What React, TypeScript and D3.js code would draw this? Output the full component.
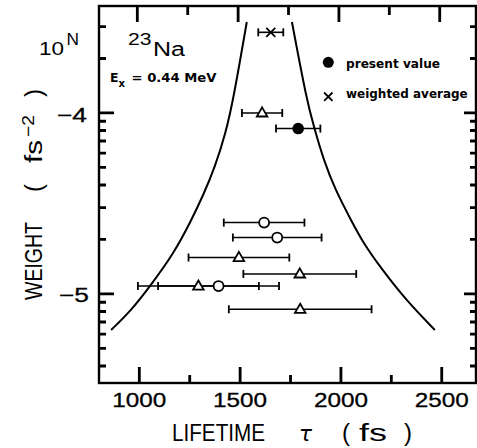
import * as d3 from 'd3';
import { useEffect, useRef } from 'react';

const triTau = [1609, 1494, 1796, 1293, 1798];
const triErr = [100, 250, 280, 300, 354];
const triWeight = [1.0e-4, 1.59e-5, 1.29e-5, 1.106e-5, 8.23e-6];

const circTau = [1619, 1684, 1393];
const circErr = [200, 220, 300];
const circWeight = [2.48e-5, 2.05e-5, 1.106e-5];

const presentTau = 1788;
const presentErr = 110;
const presentWeight = 8.2e-5;

const avgTau = 1652;
const avgErr = 62;
const avgWeight = 2.79e-4;

// envelope curves [tau, weight]
const leftCurve = [
  [1533, 3.18e-4], [1466, 1.18e-4], [1428, 7.73e-5], [1376, 5.05e-5], [1314, 3.45e-5],
  [1258, 2.56e-5], [1172, 1.68e-5], [1052, 1.1e-5], [962, 8.17e-6], [860, 6.32e-6],
];
const rightCurve = [
  [1757, 3.18e-4], [1830, 1.18e-4], [1868, 8.23e-5], [1914, 5.5e-5], [1972, 3.76e-5],
  [2050, 2.56e-5], [2112, 1.9e-5], [2205, 1.36e-5], [2322, 9.27e-6], [2466, 6.32e-6],
];

const xMajor = [1000, 1500, 2000, 2500];
const xMinor = [1250, 1750, 2250];
const yMajor = [1e-4, 1e-5];
const yMinor = [3e-4, 2e-4, 9e-5, 8e-5, 7e-5, 6e-5, 5e-5, 4e-5, 3e-5, 2e-5, 9e-6, 8e-6, 7e-6, 6e-6, 5e-6, 4e-6];

const FONT = '"Liberation Sans", Arial, sans-serif';
const BOLD = '"DejaVu Sans", sans-serif';

const App = () => {
  const svgRef = useRef(null);

  useEffect(() => {
    const width = 477;
    const height = 448;
    const left = 99, right = 476, top = 6, bottom = 383;

    const x = d3.scaleLinear().domain([800, 2670]).range([left, right]);
    const y = d3.scaleLog().domain([Math.pow(10, -5.492), Math.pow(10, -3.409)]).range([bottom, top]);

    const svg = d3.select(svgRef.current)
      .attr('width', width)
      .attr('height', height);

    svg.append('rect').attr('width', width).attr('height', height).attr('fill', '#fff');

    // frame
    svg.append('rect')
      .attr('x', left).attr('y', top)
      .attr('width', right - left).attr('height', bottom - top)
      .attr('fill', 'none').attr('stroke', '#000').attr('stroke-width', 2.4);

    // tick marks
    let td = '';
    xMajor.forEach((v) => {
      td += `M${x(v)},${bottom}V${bottom - 16}`;
      td += `M${x(v) - 2},${top}V${top + 16}`;
    });
    xMinor.forEach((v) => {
      td += `M${x(v)},${bottom}V${bottom - 8}`;
      td += `M${x(v) - 2},${top}V${top + 9}`;
    });
    yMajor.forEach((v) => {
      td += `M${left},${y(v)}H${left + 15}`;
      td += `M${right},${y(v)}H${right - 12}`;
    });
    yMinor.forEach((v) => {
      td += `M${left},${y(v)}H${left + 7}`;
      td += `M${right},${y(v)}H${right - 6}`;
    });
    svg.append('path').attr('d', td)
      .attr('fill', 'none').attr('stroke', '#000').attr('stroke-width', 2.8);

    // tick labels
    xMajor.forEach((v) => {
      svg.append('text')
        .attr('x', x(v) - 27).attr('y', 407)
        .attr('textLength', 54).attr('lengthAdjust', 'spacingAndGlyphs')
        .attr('font-family', FONT).attr('font-size', 20)
        .attr('stroke', '#000').attr('stroke-width', 0.3)
        .text(String(v));
    });
    [['−4', 121.5, 87], ['−5', 302, 89]].forEach(([t, by, rx]) => {
      svg.append('text')
        .attr('x', rx - 30).attr('y', by)
        .attr('textLength', 30).attr('lengthAdjust', 'spacingAndGlyphs')
        .attr('font-family', FONT).attr('font-size', 20)
        .attr('stroke', '#000').attr('stroke-width', 0.3)
        .text(t);
    });
    svg.append('text').attr('x', 39).attr('y', 55)
      .attr('textLength', 25).attr('lengthAdjust', 'spacingAndGlyphs')
      .attr('font-family', FONT).attr('font-size', 19).text('10');
    svg.append('text').attr('x', 66.5).attr('y', 45)
      .attr('textLength', 12.5).attr('lengthAdjust', 'spacingAndGlyphs')
      .attr('font-family', FONT).attr('font-size', 16).text('N');

    // axis titles
    const xt = (s, px, len, extra = {}) => {
      const t = svg.append('text').attr('x', px).attr('y', 441)
        .attr('font-family', FONT).attr('font-size', 23).text(s);
      if (len) t.attr('textLength', len).attr('lengthAdjust', 'spacingAndGlyphs');
      Object.entries(extra).forEach(([k, val]) => t.attr(k, val));
      return t;
    };
    xt('LIFETIME', 172, 93);
    xt('τ', 299, 13, { 'font-style': 'italic', 'font-family': '"DejaVu Sans", sans-serif', 'font-size': 21 });
    xt('(', 342, 8);
    xt('fs', 359, 28);
    xt(')', 404, 8);

    const yt = (s, py, bx, len, fs = 23) =>
      svg.append('text')
        .attr('transform', `translate(${bx},${py}) rotate(-90)`)
        .attr('font-family', FONT).attr('font-size', fs)
        .attr('textLength', len).attr('lengthAdjust', 'spacingAndGlyphs')
        .text(s);
    yt('WEIGHT', 300, 41.5, 78);
    yt('(', 192, 41.5, 8);
    yt('fs', 163, 41.5, 23);
    yt('−2', 137, 33.5, 22, 17);
    yt(')', 97, 41.5, 8);

    // nucleus label
    svg.append('text').attr('x', 128).attr('y', 45)
      .attr('textLength', 23.5).attr('lengthAdjust', 'spacingAndGlyphs')
      .attr('font-family', FONT).attr('font-size', 16).text('23');
    svg.append('text').attr('x', 153).attr('y', 56)
      .attr('textLength', 32).attr('lengthAdjust', 'spacingAndGlyphs')
      .attr('font-family', FONT).attr('font-size', 20).text('Na');

    const bt = (s, px, py, len, fs = 12) =>
      svg.append('text').attr('x', px).attr('y', py)
        .attr('font-family', BOLD).attr('font-weight', 'bold').attr('font-size', fs)
        .attr('textLength', len).attr('lengthAdjust', 'spacingAndGlyphs')
        .text(s);
    bt('E', 110, 81.7, 8.5, 11.5);
    bt('x', 118.5, 87, 6.5, 10);
    bt('= 0.44 MeV', 131.5, 81.7, 85, 11.5);

    // envelope curves
    const line = d3.line()
      .x((p) => x(p[0]))
      .y((p) => y(p[1]))
      .curve(d3.curveBasis);
    [leftCurve, rightCurve].forEach((c) => {
      svg.append('path').attr('d', line(c))
        .attr('fill', 'none').attr('stroke', '#000').attr('stroke-width', 2);
    });

    // error bars
    const errBar = (tau, err, w) => {
      const yy = y(w);
      svg.append('line').attr('x1', x(tau - err)).attr('x2', x(tau + err))
        .attr('y1', yy).attr('y2', yy).attr('stroke', '#000').attr('stroke-width', 1.6);
      [tau - err, tau + err].forEach((v) => {
        svg.append('line').attr('x1', x(v)).attr('x2', x(v))
          .attr('y1', yy - 4).attr('y2', yy + 4).attr('stroke', '#000').attr('stroke-width', 1.8);
      });
    };

    triTau.forEach((t, i) => errBar(t, triErr[i], triWeight[i]));
    circTau.forEach((t, i) => errBar(t, circErr[i], circWeight[i]));
    errBar(presentTau, presentErr, presentWeight);
    errBar(avgTau, avgErr, avgWeight);

    const tri = d3.symbol().type(d3.symbolTriangle).size(48);
    triTau.forEach((t, i) => {
      svg.append('path').attr('d', tri())
        .attr('transform', `translate(${x(t)},${y(triWeight[i]) + 0.5})`)
        .attr('fill', '#fff').attr('stroke', '#000').attr('stroke-width', 1.8);
    });
    circTau.forEach((t, i) => {
      svg.append('circle').attr('cx', x(t)).attr('cy', y(circWeight[i])).attr('r', 5)
        .attr('fill', '#fff').attr('stroke', '#000').attr('stroke-width', 1.8);
    });
    svg.append('circle').attr('cx', x(presentTau)).attr('cy', y(presentWeight)).attr('r', 5.8)
      .attr('fill', '#000');

    const cross = (cx, cy, s) => {
      svg.append('path')
        .attr('d', `M${cx - s},${cy - s}L${cx + s},${cy + s}M${cx - s},${cy + s}L${cx + s},${cy - s}`)
        .attr('stroke', '#000').attr('stroke-width', 1.8);
    };
    cross(x(avgTau), y(avgWeight), 4.5);

    // legend
    svg.append('circle').attr('cx', 328.3).attr('cy', 62.3).attr('r', 5.5).attr('fill', '#000');
    bt('present value', 346, 68, 94, 12.5);
    cross(328.3, 96.7, 4.2);
    bt('weighted average', 346, 98, 121.7, 12.5);

    return () => {
      svg.selectAll('*').remove();
    };
  }, []);

  return <svg ref={svgRef} style={{ position: 'absolute', left: 0, top: 0 }} />;
};

export default App;
